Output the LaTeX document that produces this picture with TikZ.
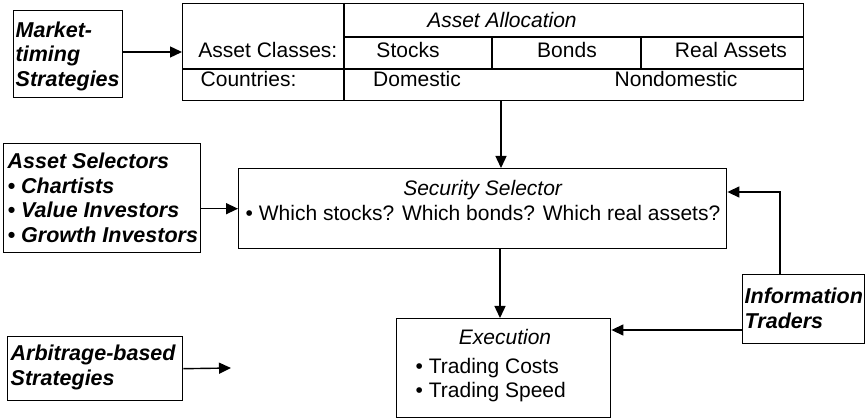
\documentclass[tikz,border=0pt]{standalone}
\usepackage{fontspec}
\setmainfont{Liberation Sans}
\usetikzlibrary{arrows.meta,calc}
\begin{document}
\begin{tikzpicture}[x=1pt,y=-1pt,
  font=\fontsize{21}{24}\selectfont, line width=1.4pt,
  box/.style={draw, inner sep=0pt, anchor=north west},
  txt/.style={inner sep=0pt},
  bi/.style={inner sep=0pt, align=left, font=\fontsize{21.5}{24.5}\selectfont\bfseries\itshape},
  arr/.style={-{Triangle[length=12pt,width=11pt]}},
  thin/.style={line width=1.1pt}]
\useasboundingbox (0,0) rectangle (865,419);

% Market-timing
\node[box, minimum width=109pt, minimum height=87pt] (mt) at (13,10) {};
\node[bi, anchor=west] (mtT) at (15,56) {Market-\\timing\\Strategies};

% Asset allocation table
\node[box, minimum width=621pt, minimum height=97pt] (tab) at (182,3) {};
\draw[thin] (344,37) -- (803,37);
\draw[thin] (182,69) -- (803,69);
\draw[thin] (344,3) -- (344,100);
\draw[thin] (492,37) -- (492,69);
\draw[thin] (641,37) -- (641,69);
\node[txt, anchor=base, font=\fontsize{21}{24}\selectfont\itshape] (aa) at (502,28) {Asset Allocation};
\node[txt, anchor=base east] (ac) at (338,58) {Asset Classes:};
\node[txt, anchor=base] (st) at (408,58) {Stocks};
\node[txt, anchor=base] (bo) at (567,58) {Bonds};
\node[txt, anchor=base] (ra) at (731,58) {Real Assets};
\node[txt, anchor=base west] (co) at (200,87) {Countries:};
\node[txt, anchor=base] (dom) at (417,87) {Domestic};
\node[txt, anchor=base] (ndom) at (676,87) {Nondomestic};

% Asset selectors
\node[box, minimum width=197pt, minimum height=109pt] (as) at (3,143) {};
\node[bi, anchor=west] (asT) at (7,198) {Asset Selectors\\\textbullet\ Chartists\\\textbullet\ Value Investors\\\textbullet\ Growth Investors};

% Security selector
\node[box, minimum width=488pt, minimum height=80pt] (sec) at (238,168) {};
\node[txt, align=center, font=\fontsize{21}{25}\selectfont] (secT) at (483,200) {\textit{Security Selector}\\\textbullet\ Which stocks? Which bonds? Which real assets?};

% Execution
\node[box, minimum width=214pt, minimum height=99pt] (ex) at (396,318) {};
\node[txt, font=\fontsize{21}{24}\selectfont\itshape] (exT) at (505,337) {Execution};
\node[txt, align=left, anchor=west] (exL) at (415,380) {\textbullet\ Trading Costs\\\textbullet\ Trading Speed};

% Information traders
\node[box, minimum width=122pt, minimum height=69pt] (it) at (742,274) {};
\node[bi, anchor=west] (itT) at (744,308.5) {Information\\Traders};

% Arbitrage
\node[box, minimum width=175pt, minimum height=64pt] (ab) at (7,336) {};
\node[bi, anchor=west] (abT) at (10,367.5) {Arbitrage-based\\Strategies};

% connectors
\coordinate (colA) at (501,0);
\coordinate (colB) at (500,0);
\coordinate (infx) at (780,192);
\coordinate (abEnd) at (231,368);
\draw[arr] (mt.east |- 0,52) -- (tab.west |- 0,52);
\draw[arr] (tab.south -| colA) -- (sec.north -| colA);
\draw[arr] (as.east |- sec.west) -- (sec.west);
\draw[arr] (sec.south -| colB) -- (ex.north -| colB);
\draw[arr] (it.north -| infx) -- (infx) -- (sec.east |- infx);
\draw[arr] (it.west |- 0,330) -- (ex.east |- 0,330);
\draw[arr] (ab.east) -- (abEnd);
\end{tikzpicture}
\end{document}
